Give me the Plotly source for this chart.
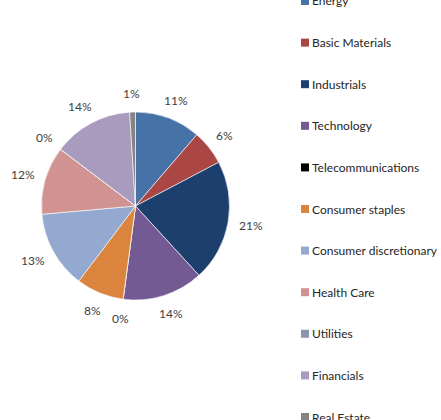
import math
import plotly.graph_objects as go

sectors = ["Energy", "Basic Materials", "Industrials", "Technology", "Telecommunications",
           "Consumer staples", "Consumer discretionary", "Health Care", "Utilities",
           "Financials", "Real Estate"]
weights = [11.3, 6.0, 20.9, 13.9, 0.0, 8.2, 13.3, 11.7, 0.0, 13.7, 1.0]
colors = ["#4672A8", "#AA4643", "#1C3F6D", "#745A92", "#000000", "#DB843D",
          "#93A9CF", "#D19392", "#8B95AC", "#A99BBD", "#858585"]

W, H = 441, 420
FONT = "Lato, 'Open Sans', sans-serif"
CX, CY, R = 135.5, 206.0, 94.0

fig = go.Figure(go.Pie(
    labels=sectors, values=weights, sort=False, direction="clockwise", rotation=0,
    marker=dict(colors=colors, line=dict(color="white", width=0.6)),
    textinfo="none", showlegend=False, hoverinfo="label+percent",
    domain=dict(x=[(CX - R) / W, (CX + R) / W], y=[1 - (CY + R) / H, 1 - (CY - R) / H]),
))

# percentage labels placed outside each slice (like Excel's data labels)
annots = []
total = sum(weights)
cum = 0.0
for v in weights:
    mid = (cum + v / 2) / total * 2 * math.pi
    cum += v
    txt = f"{round(v / total * 100)}%"
    dx, dy = math.sin(mid), -math.cos(mid)
    w, h = 6.6 * len(txt), 12
    px = CX + dx * 107 + dx * w / 2
    py = CY + dy * 107 + dy * h / 2
    annots.append(dict(text=txt, xref="paper", yref="paper", x=px / W, y=1 - py / H,
                       xanchor="center", yanchor="middle", showarrow=False,
                       font=dict(family=FONT, size=12, color="#404040")))

# legend drawn as shapes + annotations (reference legend is cropped at top and bottom)
shapes = []
for i, (name, col) in enumerate(zip(sectors, colors)):
    yc = 1.0 + i * 41.6
    shapes.append(dict(type="rect", xref="paper", yref="paper",
                       x0=301 / W, x1=309 / W, y0=1 - (yc + 4) / H, y1=1 - (yc - 4) / H,
                       fillcolor=col, line=dict(width=0)))
    annots.append(dict(text=name, xref="paper", yref="paper", x=310 / W, y=1 - yc / H,
                       xanchor="left", yanchor="middle", showarrow=False,
                       font=dict(family=FONT, size=12, color="#262626")))

fig.update_layout(width=W, height=H, margin=dict(l=0, r=0, t=0, b=0),
                  paper_bgcolor="white", plot_bgcolor="white",
                  shapes=shapes, annotations=annots)
fig.write_html("out.html")
